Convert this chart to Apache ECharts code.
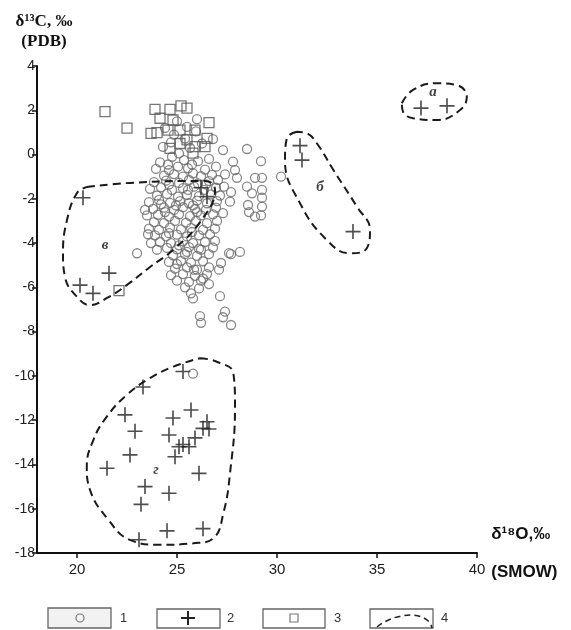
<!DOCTYPE html>
<html>
<head>
<meta charset="utf-8">
<script src="https://cdn.jsdelivr.net/npm/echarts@6/dist/echarts.min.js"></script>
<style>
html,body{margin:0;padding:0;background:#fff;}
#chart{width:571px;height:630px;}
</style>
</head>
<body>
<div id="chart"></div>
<script>
// ---- data ----
const xTicks = [20, 25, 30, 35, 40];
const yMin = -18, yMax = 4, yStep = 2;

// 1: circles
const circles = [
  [25.0,1.5],[25.5,1.25],[25.95,1.05],[24.85,0.9],[25.4,0.72],[24.7,0.55],[26.25,0.5],[25.65,0.3],[24.4,1.2],[26.0,1.6],[27.3,0.2],[28.5,0.25],[25.1,0.05],[24.3,0.35],[26.8,0.7],
  [24.15,-0.35],[26.05,-0.3],[27.8,-0.32],[29.2,-0.3],[25.35,-0.25],[24.75,-0.1],
  [23.95,-0.65],[24.6,-0.7],[25.05,-0.55],[25.55,-0.62],[26.4,-0.68],[26.95,-0.55],[27.9,-0.7],
  [24.35,-0.95],[24.85,-0.88],[25.3,-1.0],[25.8,-0.85],[26.2,-0.98],[26.75,-0.92],[28.9,-1.05],[29.25,-1.05],
  [23.85,-1.25],[24.45,-1.18],[25.1,-1.28],[25.6,-1.15],[26.05,-1.3],[26.6,-1.2],[27.05,-1.15],[28.5,-1.45],
  [23.65,-1.55],[24.2,-1.48],[24.75,-1.6],[25.3,-1.52],[25.85,-1.45],[26.35,-1.6],[26.95,-1.5],[27.35,-1.45],[28.75,-1.75],[29.25,-1.6],
  [24.0,-1.85],[24.5,-1.78],[25.05,-1.9],[25.5,-1.82],[26.1,-1.88],[26.7,-1.8],[27.15,-1.85],[29.25,-1.95],
  [23.6,-2.15],[24.1,-2.05],[24.65,-2.18],[25.15,-2.1],[25.6,-2.2],[26.0,-2.08],[26.5,-2.2],[27.0,-2.1],[27.65,-2.13],[28.55,-2.28],[29.25,-2.35],
  [23.8,-2.45],[24.35,-2.4],[24.85,-2.5],[25.3,-2.38],[25.9,-2.45],[26.45,-2.5],[26.95,-2.4],[28.9,-2.8],[29.2,-2.75],
  [23.5,-2.75],[24.05,-2.72],[24.6,-2.8],[25.1,-2.7],[25.65,-2.78],[26.2,-2.75],[26.8,-2.7],[27.3,-2.65],[28.6,-2.6],
  [23.85,-3.05],[24.35,-3.1],[24.9,-3.0],[25.45,-3.08],[25.95,-3.0],[26.5,-3.1],[27.0,-3.0],
  [23.6,-3.35],[24.1,-3.4],[24.65,-3.3],[25.2,-3.38],[25.7,-3.32],[26.3,-3.4],[26.9,-3.35],
  [23.9,-3.65],[24.45,-3.7],[25.0,-3.62],[25.5,-3.7],[26.1,-3.65],[26.65,-3.6],
  [24.15,-3.95],[24.7,-4.0],[25.3,-3.92],[25.8,-4.0],[26.4,-3.95],[26.9,-3.9],
  [24.5,-4.22],[25.0,-4.28],[25.6,-4.18],[26.2,-4.3],[26.8,-4.2],[27.6,-4.45],[28.15,-4.4],
  [23.0,-4.46],[24.8,-4.55],[25.4,-4.5],[26.0,-4.58],[26.6,-4.5],[27.2,-4.9],[27.7,-4.5],
  [24.6,-4.85],[25.2,-4.8],[25.7,-4.88],[26.3,-4.82],[27.1,-5.2],
  [24.9,-5.15],[25.5,-5.1],[26.0,-5.2],[26.6,-5.1],
  [24.7,-5.45],[25.3,-5.4],[25.9,-5.48],[26.5,-5.4],
  [25.0,-5.7],[25.6,-5.75],[26.2,-5.7],[26.6,-5.85],
  [25.4,-6.0],[26.1,-6.05],
  [25.7,-6.27],[27.15,-6.4],[25.8,-6.5],
  [27.4,-7.1],[26.15,-7.3],[27.3,-7.35],[26.2,-7.6],[27.7,-7.7],
  [24.55,-0.45],[25.75,-0.45],[24.6,-1.35],[25.55,-1.6],[26.45,-1.35],[24.95,-2.3],[25.8,-2.3],[24.4,-2.6],[26.0,-2.6],
  [24.6,-3.55],[25.75,-3.5],[25.1,-4.1],[26.1,-4.25],[25.5,-4.4],[25.0,-4.95],[25.85,-5.2],[26.3,-5.6],[24.2,-2.25],
  [23.4,-2.5],[23.55,-3.6],[23.7,-4.0],[24.0,-4.3],[26.6,-0.2],[27.4,-0.9],[28.0,-1.05],[27.7,-1.7],
  [30.2,-1.0],[25.8,-9.9]
];

// 2: crosses
const crosses = [
  [37.2,2.1],[38.5,2.2],
  [31.15,0.4],[31.25,-0.25],[33.8,-3.48],
  [20.3,-1.95],[21.6,-5.36],[20.15,-5.9],[20.8,-6.27],
  [26.2,-1.5],[26.5,-1.9],
  [25.3,-9.8],[23.3,-10.5],[22.4,-11.76],[25.7,-11.54],[24.8,-11.9],[26.5,-12.07],[26.3,-12.37],
  [22.9,-12.5],[24.6,-12.67],[26.6,-12.4],[25.9,-12.8],[25.3,-13.1],[25.1,-13.2],[25.6,-13.2],
  [22.65,-13.57],[24.9,-13.65],[21.5,-14.17],[26.1,-14.4],[23.4,-15.0],[24.6,-15.3],[23.2,-15.8],
  [24.5,-17.0],[26.3,-16.9],[23.1,-17.4]
];

// 3: squares
const squares = [
  [21.4,1.94],[22.5,1.19],[23.9,2.04],[24.65,2.04],[25.2,2.2],[25.5,2.1],[24.15,1.64],[24.8,1.56],
  [26.6,1.44],[23.7,0.96],[24.0,0.99],[24.55,1.1],[25.15,1.1],[25.9,1.1],[25.5,0.66],[26.5,0.73],
  [24.65,0.28],[25.9,0.36],[26.4,0.36],[25.15,0.5],[25.8,0.06],[22.1,-6.15]
];

// 4: dashed contours of groups
const contourA = [[36.24,2.32],[36.8,2.92],[37.99,3.22],[38.99,3.14],[39.49,2.61],[39.15,2.01],[37.99,1.56],[36.8,1.64],[36.3,1.94],[36.24,2.32]];
const contourB = [[30.99,1.03],[30.49,0.73],[30.4,-0.25],[31.15,-2.2],[32.49,-3.86],[33.65,-4.46],[34.49,-4.23],[34.65,-3.41],[33.99,-2.35],[32.82,-0.7],[31.99,0.51],[31.49,0.96],[30.99,1.03]];
const contourV = [[20.5,-1.47],[22.65,-1.28],[26.4,-1.19],[26.9,-1.6],[26.15,-3.05],[24.8,-4.31],[23.65,-5.08],[22.5,-5.89],[21.5,-6.48],[20.65,-6.8],[20.0,-6.43],[19.4,-5.53],[19.3,-4.45],[19.5,-2.96],[20.0,-1.74],[20.5,-1.47]];
const contourG = [[26.15,-9.2],[26.99,-9.36],[27.82,-9.88],[27.9,-11.39],[27.65,-14.4],[27.32,-16.2],[26.82,-17.33],[25.82,-17.56],[24.15,-17.63],[22.65,-17.41],[21.57,-16.5],[20.65,-15.15],[20.49,-14.1],[20.82,-12.89],[21.49,-11.84],[22.49,-10.86],[23.65,-10.1],[24.82,-9.58],[26.15,-9.2]];

const groupLabels = ['а', 'б', 'в', 'г'];
const groupLabelPos = [[37.8,2.8],[32.15,-1.45],[21.4,-4.08],[23.95,-14.25]];

const legendLabels = ['1', '2', '3', '4'];

// ---- chart ----
const chart = echarts.init(document.getElementById('chart'), null, {renderer: 'canvas'});
const dash = {color: '#1a1a1a', width: 2, type: [8, 5]};
const crossPath = 'path://M-1.1,-10h2.2v20h-2.2zM-10,-1.1h20v2.2h-20z';

function contourSeries(pts) {
  return {type: 'line', data: pts, smooth: 0.45, symbol: 'none', lineStyle: dash, silent: true, z: 4};
}

const option = {
  backgroundColor: '#fff',
  animation: false,
  grid: {left: 37, right: 94, top: 66, bottom: 77, containLabel: false, outerBoundsMode: 'none'},
  xAxis: {
    type: 'value', min: 18, max: 40,
    splitLine: {show: false},
    axisLine: {onZero: false, lineStyle: {color: '#111', width: 2}},
    axisTick: {show: true, customValues: xTicks, length: 5, lineStyle: {color: '#111', width: 1.5}},
    axisLabel: {customValues: xTicks, color: '#222', fontSize: 15, fontFamily: 'Liberation Sans, Arial', margin: 9},
    name: 'δ¹⁸O,‰\n(SMOW)',
    nameLocation: 'end', nameGap: 9,
    nameTextStyle: {color: '#111', fontSize: 17, fontWeight: 'bold', fontFamily: 'Liberation Sans, Arial',
      align: 'left', verticalAlign: 'middle', lineHeight: 38}
  },
  yAxis: {
    type: 'value', min: yMin, max: yMax, interval: yStep,
    splitLine: {show: false},
    axisLine: {onZero: false, lineStyle: {color: '#111', width: 2}},
    axisTick: {show: true, length: 5, lineStyle: {color: '#111', width: 1.5}},
    axisLabel: {color: '#222', fontSize: 14, fontFamily: 'Liberation Sans, Arial', margin: 2},
    name: 'δ¹³C, ‰\n(PDB)',
    nameLocation: 'end', nameGap: 14,
    nameTextStyle: {color: '#111', fontSize: 17, fontWeight: 'bold', fontFamily: 'Liberation Serif, Times New Roman',
      align: 'center', lineHeight: 20, padding: [0, 0, 0, 14]}
  },
  series: [
    {type: 'scatter', data: circles, symbol: 'circle', symbolSize: 9,
      itemStyle: {color: 'rgba(0,0,0,0)', borderColor: '#6a6a6a', borderWidth: 1.3}, z: 2},
    {type: 'scatter', data: squares, symbol: 'rect', symbolSize: 10,
      itemStyle: {color: 'rgba(0,0,0,0)', borderColor: '#555', borderWidth: 1.3}, z: 2},
    {type: 'scatter', data: crosses, symbol: crossPath, symbolSize: 15,
      itemStyle: {color: '#222'}, z: 3},
    contourSeries(contourA),
    contourSeries(contourB),
    contourSeries(contourV),
    contourSeries(contourG),
    {type: 'scatter', symbolSize: 0, silent: true, z: 5,
      data: groupLabelPos.map((p, i) => ({value: p, name: groupLabels[i]})),
      label: {show: true, position: 'inside', formatter: p => p.name, color: '#111',
        fontSize: 15, fontStyle: 'italic', fontWeight: 'bold', fontFamily: 'Liberation Serif, Times New Roman'}}
  ],
  graphic: [
    {type: 'rect', shape: {x: 48, y: 608, width: 63, height: 20}, style: {fill: '#f2f2f2', stroke: '#666', lineWidth: 1.3}},
    {type: 'circle', shape: {cx: 80, cy: 618, r: 4}, style: {fill: 'none', stroke: '#777', lineWidth: 1.2}},
    {type: 'text', style: {text: legendLabels[0], x: 120, y: 618, fill: '#333', font: '13px Liberation Sans, Arial', verticalAlign: 'middle'}},
    {type: 'rect', shape: {x: 157, y: 609, width: 63, height: 19}, style: {fill: '#fff', stroke: '#666', lineWidth: 1.3}},
    {type: 'line', shape: {x1: 181, y1: 618, x2: 195, y2: 618}, style: {stroke: '#222', lineWidth: 2}},
    {type: 'line', shape: {x1: 188, y1: 611, x2: 188, y2: 625}, style: {stroke: '#222', lineWidth: 2}},
    {type: 'text', style: {text: legendLabels[1], x: 227, y: 618, fill: '#333', font: '13px Liberation Sans, Arial', verticalAlign: 'middle'}},
    {type: 'rect', shape: {x: 263, y: 609, width: 62, height: 19}, style: {fill: '#fff', stroke: '#666', lineWidth: 1.3}},
    {type: 'rect', shape: {x: 290, y: 614, width: 8, height: 8}, style: {fill: 'none', stroke: '#777', lineWidth: 1.2}},
    {type: 'text', style: {text: legendLabels[2], x: 334, y: 618, fill: '#333', font: '13px Liberation Sans, Arial', verticalAlign: 'middle'}},
    {type: 'rect', shape: {x: 370, y: 609, width: 63, height: 19}, style: {fill: '#fff', stroke: '#666', lineWidth: 1.3}},
    {type: 'bezierCurve', shape: {x1: 377, y1: 627, cpx1: 395, cpy1: 612, cpx2: 428, cpy2: 610, x2: 432, y2: 628},
      style: {fill: 'none', stroke: '#222', lineWidth: 1.5, lineDash: [6, 4]}},
    {type: 'text', style: {text: legendLabels[3], x: 441, y: 618, fill: '#333', font: '13px Liberation Sans, Arial', verticalAlign: 'middle'}}
  ]
};
chart.setOption(option);
</script>
</body>
</html>
